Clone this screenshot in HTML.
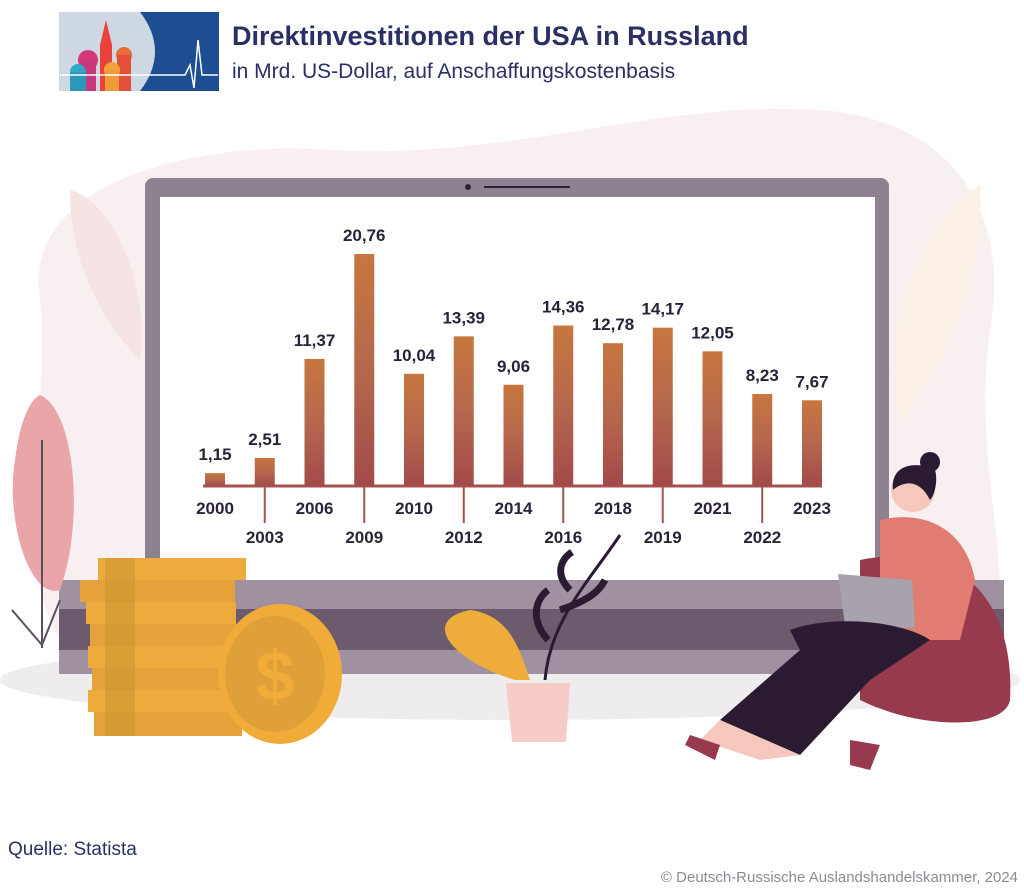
<!DOCTYPE html>
<html><head><meta charset="utf-8"><style>
body{margin:0;width:1024px;height:893px;overflow:hidden;background:#fff;font-family:"Liberation Sans",sans-serif}
svg{display:block}
</style></head><body>
<svg width="1024" height="893" viewBox="0 0 1024 893">
<g>
<path d="M40 300 C20 180 200 140 330 150 C520 160 650 100 820 110 C960 120 1010 220 990 330 C975 430 1000 520 1000 600 L60 640 C10 560 50 420 40 300Z" fill="#f8eff1"/>
<ellipse cx="510" cy="680" rx="510" ry="40" fill="#efeced"/>
</g>
<g>
<rect x="59" y="12" width="160" height="79" fill="#cdd8e3"/>
<path d="M140 12 H219 V91 H140 C160 65 160 38 140 12Z" fill="#1d4e92"/>
<path d="M100 91 V45 L106 20 L112 45 V91Z" fill="#e9433a"/>
<circle cx="88" cy="60" r="10" fill="#d43a7a"/><rect x="80" y="60" width="16" height="31" fill="#c8387a"/>
<circle cx="78" cy="72" r="8" fill="#33a6c9"/><rect x="70" y="72" width="16" height="19" fill="#2c97bb"/>
<circle cx="124" cy="55" r="8" fill="#ea6a3a"/><rect x="117" y="55" width="14" height="36" fill="#e2503a"/>
<circle cx="112" cy="70" r="8" fill="#f2a23c"/><rect x="105" y="70" width="14" height="21" fill="#f19a3a"/>
<polyline points="60,75 185,75 190,65 194,88 198,40 202,75 218,75" fill="none" stroke="#fff" stroke-width="1.5"/>
<text x="232" y="45" font-size="27" font-weight="bold" fill="#2a3064">Direktinvestitionen der USA in Russland</text>
<text x="232" y="78" font-size="21" fill="#2a3064">in Mrd. US-Dollar, auf Anschaffungskostenbasis</text>
</g>
<g>
<path d="M70 190 C110 200 150 280 140 360 C100 320 70 260 70 190Z" fill="#f6e3e3"/>
<path d="M900 420 C880 330 920 220 980 185 C985 270 950 360 900 420Z" fill="#fbf1e6"/>
</g>
<g>
<rect x="145" y="178" width="744" height="410" rx="8" fill="#8e8290"/>
<rect x="160" y="197" width="715" height="383" fill="#fff"/>
<circle cx="468" cy="187" r="3" fill="#2c2233"/>
<rect x="484" y="186" width="86" height="2" fill="#2c2233"/>
<rect x="59" y="580" width="945" height="29" fill="#9f919f"/>
<rect x="59" y="609" width="945" height="41" fill="#6c5a6d"/>
<rect x="59" y="650" width="945" height="24" fill="#9f919f"/>
</g>
<g id="chart"></g>
<g>
<path d="M40 395 C75 410 85 520 60 590 C30 600 5 520 15 460 C20 420 30 400 40 395Z" fill="#e9a5a7"/>
<line x1="42" y1="440" x2="42" y2="648" stroke="#5a5060" stroke-width="2"/>
<path d="M12 610 L42 645 L60 600" fill="none" stroke="#5a5060" stroke-width="2"/>
</g>
<g>
<rect x="98" y="558" width="148" height="22" fill="#edab3e"/>
<rect x="80" y="580" width="155" height="22" fill="#e5a23b"/>
<rect x="86" y="602" width="150" height="22" fill="#edab3e"/>
<rect x="90" y="624" width="148" height="22" fill="#e5a23b"/>
<rect x="88" y="646" width="150" height="22" fill="#edab3e"/>
<rect x="92" y="668" width="150" height="22" fill="#e5a23b"/>
<rect x="88" y="690" width="150" height="22" fill="#edab3e"/>
<rect x="94" y="712" width="148" height="24" fill="#e5a23b"/>
<rect x="105" y="558" width="30" height="178" fill="#c98f2e" opacity="0.5"/>
<ellipse cx="280" cy="674" rx="62" ry="70" fill="#f0ab39"/>
<ellipse cx="275" cy="674" rx="50" ry="58" fill="#dfa03a"/>
<text x="275" y="700" font-size="70" font-weight="bold" text-anchor="middle" fill="#f0ab39">$</text>
</g>
<g>
<path d="M515 680 C450 660 420 620 470 610 C510 615 520 650 530 680Z" fill="#eeac3a"/>
<path d="M545 680 C550 620 590 580 620 535" stroke="#2a1b33" stroke-width="3" fill="none"/>
<path d="M548 640 C530 620 535 600 548 590 M560 610 C590 600 600 590 605 580 M570 590 C555 575 560 560 572 552" stroke="#2a1b33" stroke-width="7" fill="none"/>
<path d="M506 683 H570 L566 742 H512Z" fill="#f7cbc8"/>
</g>
<g>
<path d="M860 560 C960 540 1015 600 1010 700 C1005 730 920 730 860 700Z" fill="#973a4e"/>
<path d="M880 520 C920 510 965 525 975 580 L960 640 L880 640Z" fill="#e07c72"/>
<circle cx="913" cy="490" r="22" fill="#f6c8bd"/>
<path d="M893 490 C890 465 915 460 935 470 C938 480 935 495 930 500 C920 480 905 480 893 490Z" fill="#2a1b33"/>
<circle cx="930" cy="462" r="10" fill="#2a1b33"/>
<path d="M838 574 L912 580 L915 628 L845 625Z" fill="#a8a2ad"/>
<path d="M790 630 C830 615 900 620 930 640 L870 680 L800 755 L720 720 L800 650Z" fill="#2a1b33"/>
<path d="M720 720 L800 755 L760 760 L700 740Z" fill="#f6c8bd"/>
<path d="M690 735 L720 745 L715 760 L685 745Z" fill="#973a4e"/>
<path d="M850 740 L880 745 L870 770 L850 765Z" fill="#973a4e"/>
</g>
<text x="8" y="855" font-size="19" fill="#2a3064">Quelle: Statista</text>
<text x="1018" y="882" font-size="15" fill="#8b8b95" text-anchor="end">© Deutsch-Russische Auslandshandelskammer, 2024</text>
</svg>
<script>
const years=["2000","2003","2006","2009","2010","2012","2014","2016","2018","2019","2021","2022","2023"];
const values=[1.15,2.51,11.37,20.76,10.04,13.39,9.06,14.36,12.78,14.17,12.05,8.23,7.67];
const valueLabels=["1,15","2,51","11,37","20,76","10,04","13,39","9,06","14,36","12,78","14,17","12,05","8,23","7,67"];
const NS="http://www.w3.org/2000/svg";
const g=document.getElementById('chart');
const x0=215,step=49.75,baseY=486,pxPerUnit=232/20.76,bw=20;
const xs=i=>x0+i*step;
const ys=v=>baseY-v*pxPerUnit;
function mk(t,a){const e=document.createElementNS(NS,t);for(const k in a)e.setAttribute(k,a[k]);g.appendChild(e);return e;}
const defs=mk('defs',{});
defs.innerHTML='<linearGradient id="bg" x1="0" y1="0" x2="0" y2="1"><stop offset="0" stop-color="#c7763f"/><stop offset="0.5" stop-color="#b5684d"/><stop offset="1" stop-color="#a24a4a"/></linearGradient>';
const axis=mk('line',{x1:203,y1:baseY,x2:822,y2:baseY,stroke:'#a8524e','stroke-width':3});


years.forEach((y,i)=>{
  const cx=xs(i),top=ys(values[i]);
  const r=mk('rect',{x:cx-bw/2,y:top,width:bw,height:baseY-top,fill:'url(#bg)'});
  
  
  const lb=mk('text',{x:cx,y:top-13,'font-size':17,'font-weight':'bold','text-anchor':'middle',fill:'#2a2238'});
  lb.textContent=valueLabels[i];
  
  
  const odd=i%2===1;
  if(odd){const t=mk('line',{x1:cx,y1:baseY,x2:cx,y2:523,stroke:'#a8524e','stroke-width':2});
    
    }
  const yl=mk('text',{x:cx,y:odd?543:514,'font-size':17,'font-weight':'bold','text-anchor':'middle',fill:'#2a2238'});
  yl.textContent=y;
  
  
});
</script>
</body></html>
